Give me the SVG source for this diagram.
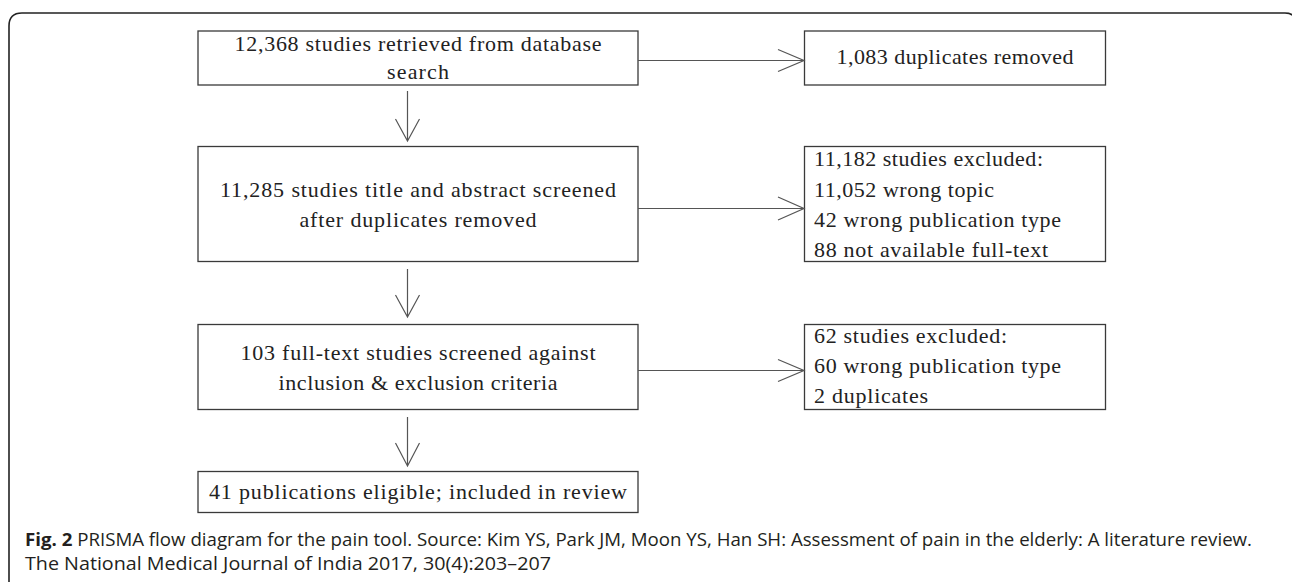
<svg xmlns="http://www.w3.org/2000/svg" width="1292" height="582" viewBox="0 0 1292 582">
<defs>
<style>
.box{fill:#fff;stroke:#3a3a3a;stroke-width:1.3}
.t{font-family:"Liberation Serif","DejaVu Serif",serif;font-size:22px;fill:#222}
.c{text-anchor:middle}
.line{stroke:#555;stroke-width:1.2;fill:none}
.cap{font-family:"Open Sans","Noto Sans",sans-serif;font-size:17.5px;fill:#231f20}
</style>
</defs>
<rect width="1292" height="582" fill="#fff"/>
<path d="M9,600 V26 Q9,13 22,13 H1285 Q1297,13 1297,26 V600" fill="none" stroke="#222" stroke-width="1.6"/>

<g id="n1">
<rect class="box" x="198" y="31" width="440" height="54"/>
<text class="t c" x="418" y="51" textLength="367" lengthAdjust="spacing">12,368 studies retrieved from database</text>
<text class="t c" x="418" y="79" textLength="62" lengthAdjust="spacing">search</text>
</g>
<g id="n2">
<rect class="box" x="804.5" y="31" width="301" height="54"/>
<text class="t c" x="955" y="64" textLength="237" lengthAdjust="spacing">1,083 duplicates removed</text>
</g>
<g id="n3">
<rect class="box" x="198" y="146.5" width="440" height="115"/>
<text class="t c" x="418" y="197" textLength="396" lengthAdjust="spacing">11,285 studies title and abstract screened</text>
<text class="t c" x="418" y="227" textLength="237" lengthAdjust="spacing">after duplicates removed</text>
</g>
<g id="n4">
<rect class="box" x="804.5" y="146.5" width="301" height="115"/>
<text class="t" x="814" y="166" textLength="229" lengthAdjust="spacing">11,182 studies excluded:</text>
<text class="t" x="814" y="197" textLength="180" lengthAdjust="spacing">11,052 wrong topic</text>
<text class="t" x="814" y="227" textLength="247" lengthAdjust="spacing">42 wrong publication type</text>
<text class="t" x="814" y="257" textLength="234" lengthAdjust="spacing">88 not available full-text</text>
</g>
<g id="n5">
<rect class="box" x="198" y="324.5" width="440" height="85"/>
<text class="t c" x="418" y="360" textLength="355" lengthAdjust="spacing">103 full-text studies screened against</text>
<text class="t c" x="418" y="390" textLength="279" lengthAdjust="spacing">inclusion &amp; exclusion criteria</text>
</g>
<g id="n6">
<rect class="box" x="804.5" y="324.5" width="301" height="85"/>
<text class="t" x="814" y="343" textLength="193" lengthAdjust="spacing">62 studies excluded:</text>
<text class="t" x="814" y="373" textLength="247" lengthAdjust="spacing">60 wrong publication type</text>
<text class="t" x="814" y="403" textLength="114" lengthAdjust="spacing">2 duplicates</text>
</g>
<g id="n7">
<rect class="box" x="198" y="471.5" width="440" height="41"/>
<text class="t c" x="418" y="499" textLength="418" lengthAdjust="spacing">41 publications eligible; included in review</text>
</g>

<g id="connectors">
<path class="line" d="M638,60.5 H804 M778,49.5 L804,60.5 L778,71.5"/>
<path class="line" d="M638,208.5 H804 M778,197 L804,208.5 L778,220"/>
<path class="line" d="M638,370.5 H804 M778,359.5 L804,370.5 L778,381.5"/>
<path class="line" d="M407.5,91 V141 M395.5,119 L407.5,141 L419.5,119"/>
<path class="line" d="M407.5,269 V317 M395.5,295 L407.5,317 L419.5,295"/>
<path class="line" d="M407.5,417 V466 M395.5,443 L407.5,466 L419.5,443"/>
</g>

<g id="caption">
<text class="cap" x="25" y="546" textLength="1227" lengthAdjust="spacingAndGlyphs"><tspan font-weight="bold">Fig. 2</tspan> PRISMA flow diagram for the pain tool. Source: Kim YS, Park JM, Moon YS, Han SH: Assessment of pain in the elderly: A literature review.</text>
<text class="cap" x="25" y="570" textLength="526" lengthAdjust="spacingAndGlyphs">The National Medical Journal of India 2017, 30(4):203–207</text>
</g>
</svg>
